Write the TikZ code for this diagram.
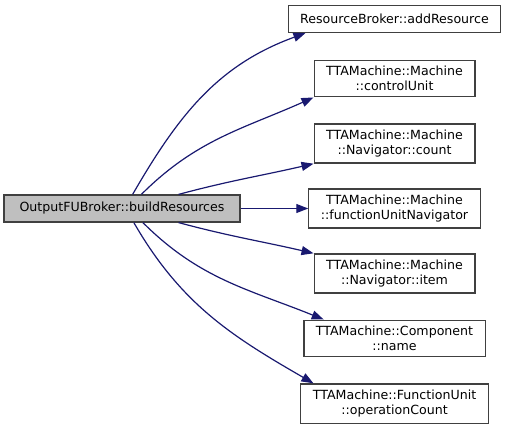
\documentclass[tikz,border=0pt]{standalone}
\usepackage{fontspec}
\setmainfont{DejaVu Sans}
\usetikzlibrary{arrows.meta}
\definecolor{edgeblue}{HTML}{191970}
\definecolor{rootgray}{HTML}{BFBFBF}
\definecolor{boxgray}{HTML}{404040}
\begin{document}
\begin{tikzpicture}[
    x=1pt, y=1pt,
    grow'=right,     % croissance vers la droite, de haut en bas
    % distances entre la racine et les appels
    level 1/.style={sibling distance=65pt, level distance=272.5pt},
    every node/.style={draw=boxgray, line width=1.2pt, align=center,
        font=\fontsize{12.6}{15}\selectfont, inner xsep=12pt, inner ysep=6pt,
        minimum height=27pt},
    edge from parent/.style={draw=edgeblue, line width=1.2pt,
        -{Triangle[length=12pt,width=9pt]}}, % fleche au bout
    call/.style n args={4}{edge from parent path={(\tikzparentnode.#1)
        to[out=#2,in=#3] (\tikzchildnode.#4)}}
]
\useasboundingbox (0,0) rectangle (508,-430);
% Racine
\node[fill=rootgray, minimum width=236pt] (build) at (122,-208.5) {OutputFUBroker::buildResources}
    child[call={53.5}{60}{200}{189.7}] { node[yshift=-5.5pt] (addres) {ResourceBroker::addResource} }
    child[call={36.9}{45}{204}{south west}] { node (ctrlunit) {TTAMachine::Machine\\::controlUnit} }
    child[call={14.3}{15}{193}{south west}] { node (navcount) {TTAMachine::Machine\\::Navigator::count} }
    child[call={0}{0}{180}{west}] { node (funav) {TTAMachine::Machine\\::functionUnitNavigator} }
    child[call={-14.3}{-15}{167}{north west}] { node (navitem) {TTAMachine::Machine\\::Navigator::item} }
    child[call={-34}{-45}{158}{165.3}] { node (compname) {TTAMachine::Component\\::name} }
    child[call={-50.8}{-60}{150}{166.5}] { node (opcount) {TTAMachine::FunctionUnit\\::operationCount} }
    ;
\end{tikzpicture}
\end{document}
